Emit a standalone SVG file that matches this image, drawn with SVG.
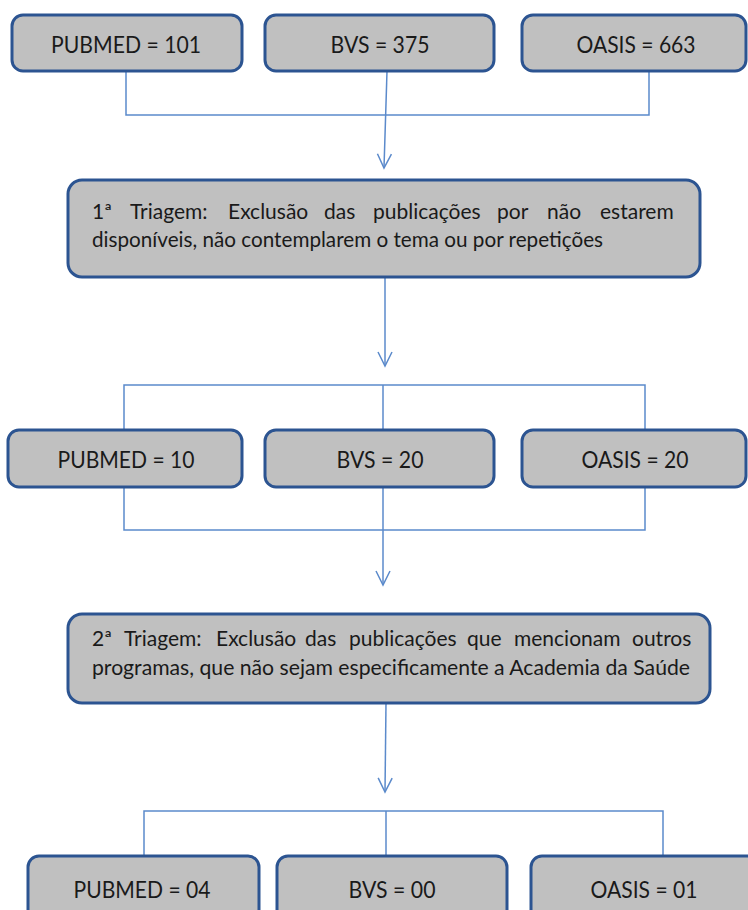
<svg xmlns="http://www.w3.org/2000/svg" width="748" height="910" viewBox="0 0 748 910">
<style>
.box{fill:#c0c0c0;stroke:#2c5491;stroke-width:3}
.lbl{font-family:Lato,"Open Sans",sans-serif;font-size:23px;fill:#1a1a1a;text-anchor:middle}
.txt{font-family:Lato,"Open Sans",sans-serif;font-size:21px;fill:#1a1a1a}
.con{fill:none;stroke:#5b8acb;stroke-width:1.5}
</style>
<defs>
<marker id="arr" viewBox="-16 -9 18 18" refX="0" refY="0" markerWidth="18" markerHeight="18" markerUnits="userSpaceOnUse" orient="auto">
<path d="M-14,-7 L0,0 L-14,7" fill="none" stroke="#5b8acb" stroke-width="1.5"/>
</marker>
</defs>
<rect width="748" height="910" fill="#ffffff"/>
<g id="connectors">
<polyline class="con" points="126,71 126,115 649,115 649,71"/>
<line class="con" x1="387" y1="71" x2="384" y2="168" marker-end="url(#arr)"/>
<line class="con" x1="385" y1="277" x2="385" y2="366" marker-end="url(#arr)"/>
<polyline class="con" points="124,430 124,385 645,385 645,430"/>
<line class="con" x1="383" y1="385" x2="383" y2="430"/>
<polyline class="con" points="124,487 124,530 645,530 645,487"/>
<line class="con" x1="383" y1="487" x2="383" y2="585" marker-end="url(#arr)"/>
<line class="con" x1="386" y1="703" x2="385" y2="792" marker-end="url(#arr)"/>
<polyline class="con" points="144,856 144,811 663,811 663,856"/>
<line class="con" x1="386" y1="811" x2="386" y2="856"/>
</g>
<g id="pubmed1">
<rect class="box" x="12" y="15" width="230" height="56" rx="11"/>
<text class="lbl" x="126" y="53" textLength="150" lengthAdjust="spacingAndGlyphs">PUBMED = 101</text>
</g>
<g id="bvs1">
<rect class="box" x="265" y="15" width="229" height="56" rx="11"/>
<text class="lbl" x="380" y="53" textLength="99" lengthAdjust="spacingAndGlyphs">BVS = 375</text>
</g>
<g id="oasis1">
<rect class="box" x="522" y="15" width="224" height="56" rx="11"/>
<text class="lbl" x="636" y="53" textLength="119" lengthAdjust="spacingAndGlyphs">OASIS = 663</text>
</g>
<g id="triagem1">
<rect class="box" x="68" y="180" width="632" height="97" rx="14"/>
<text class="txt" y="219"><tspan x="92">1ª</tspan><tspan x="130">Triagem:</tspan><tspan x="228">Exclusão</tspan><tspan x="324">das</tspan><tspan x="373">publicações</tspan><tspan x="497">por</tspan><tspan x="547">não</tspan><tspan x="600">estarem</tspan></text>
<text class="txt" x="92" y="247" textLength="511" lengthAdjust="spacingAndGlyphs">disponíveis, não contemplarem o tema ou por repetições</text>
</g>
<g id="pubmed2">
<rect class="box" x="8" y="430" width="234" height="57" rx="11"/>
<text class="lbl" x="126" y="468" textLength="137" lengthAdjust="spacingAndGlyphs">PUBMED = 10</text>
</g>
<g id="bvs2">
<rect class="box" x="265" y="430" width="229" height="57" rx="11"/>
<text class="lbl" x="380" y="468" textLength="87" lengthAdjust="spacingAndGlyphs">BVS = 20</text>
</g>
<g id="oasis2">
<rect class="box" x="522" y="430" width="224" height="57" rx="11"/>
<text class="lbl" x="635" y="468" textLength="107" lengthAdjust="spacingAndGlyphs">OASIS = 20</text>
</g>
<g id="triagem2">
<rect class="box" x="68" y="614" width="642" height="89" rx="14"/>
<text class="txt" y="646"><tspan x="92">2ª</tspan><tspan x="124">Triagem:</tspan><tspan x="216">Exclusão</tspan><tspan x="305">das</tspan><tspan x="349">publicações</tspan><tspan x="467">que</tspan><tspan x="514">mencionam</tspan><tspan x="632">outros</tspan></text>
<text class="txt" x="92" y="675" textLength="598" lengthAdjust="spacingAndGlyphs">programas, que não sejam especificamente a Academia da Saúde</text>
</g>
<g id="pubmed3">
<rect class="box" x="28" y="856" width="231" height="70" rx="11"/>
<text class="lbl" x="142" y="898" textLength="137" lengthAdjust="spacingAndGlyphs">PUBMED = 04</text>
</g>
<g id="bvs3">
<rect class="box" x="277" y="856" width="230" height="70" rx="11"/>
<text class="lbl" x="392" y="898" textLength="87" lengthAdjust="spacingAndGlyphs">BVS = 00</text>
</g>
<g id="oasis3">
<rect class="box" x="531" y="856" width="230" height="70" rx="11"/>
<text class="lbl" x="644" y="898" textLength="107" lengthAdjust="spacingAndGlyphs">OASIS = 01</text>
</g>
</svg>
